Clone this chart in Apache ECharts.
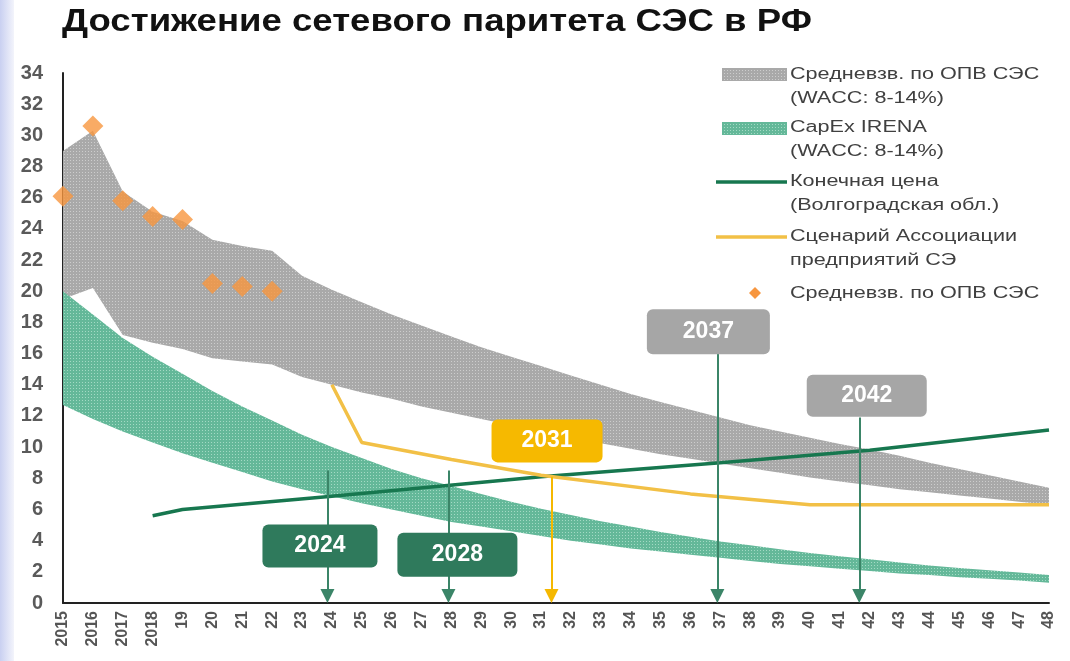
<!DOCTYPE html>
<html>
<head>
<meta charset="utf-8">
<script src="https://cdn.jsdelivr.net/npm/echarts@6/dist/echarts.min.js"></script>
<style>
  html, body { margin: 0; padding: 0; background: #fff; }
  #main { width: 1070px; height: 661px; }
</style>
</head>
<body>
<div id="main"></div>
<script>
// годы по оси X
const years = [2015, 2016, 2017, 2018, 2019, 2020, 2021, 2022, 2023, 2024, 2025, 2026, 2027, 2028, 2029, 2030, 2031,
  2032, 2033, 2034, 2035, 2036, 2037, 2038, 2039, 2040, 2041, 2042, 2043, 2044, 2045, 2046, 2047, 2048];

// Средневзв. по ОПВ СЭС (WACC 8-14%) - верхняя и нижняя граница
const grayTop = [29.0, 30.3, 26.4, 25.1, 24.5, 23.3, 22.9, 22.6, 21.0, 20.1, 19.3, 18.5, 17.8, 17.1, 16.4, 15.8, 15.2,
  14.6, 14.0, 13.4, 12.9, 12.4, 11.9, 11.4, 11.0, 10.6, 10.2, 9.85, 9.45, 9.0, 8.6, 8.2, 7.8, 7.4];
const grayLow = [19.5, 20.2, 17.2, 16.7, 16.3, 15.7, 15.5, 15.3, 14.5, 14.0, 13.5, 13.1, 12.6, 12.2, 11.8, 11.4, 11.0,
  10.6, 10.25, 9.9, 9.55, 9.25, 8.95, 8.65, 8.35, 8.05, 7.8, 7.55, 7.3, 7.1, 6.9, 6.7, 6.5, 6.3];

// CapEx IRENA (WACC 8-14%)
const greenTop = [20.0, 18.5, 17.0, 15.8, 14.7, 13.6, 12.6, 11.7, 10.8, 10.0, 9.3, 8.6, 8.0, 7.5, 7.0, 6.5, 6.05,
  5.65, 5.25, 4.9, 4.55, 4.25, 3.95, 3.7, 3.45, 3.2, 3.0, 2.8, 2.6, 2.4, 2.25, 2.1, 1.95, 1.8];
const greenLow = [12.7, 11.8, 11.0, 10.3, 9.6, 9.0, 8.4, 7.8, 7.3, 6.85, 6.4, 6.0, 5.6, 5.2, 4.9, 4.6, 4.3,
  4.0, 3.75, 3.5, 3.3, 3.1, 2.9, 2.7, 2.5, 2.35, 2.2, 2.05, 1.9, 1.8, 1.65, 1.55, 1.45, 1.3];

// Конечная цена (Волгоградская обл.)
const priceYears = [2018, 2019, 2024, 2031, 2037, 2042, 2048];
const priceValues = [5.6, 6.0, 6.85, 8.1, 9.0, 9.8, 11.1];

// Сценарий Ассоциации предприятий СЭ
const scenarioYears = [2024, 2025, 2028, 2031, 2036, 2040, 2048];
const scenarioValues = [14.0, 10.3, 9.2, 8.2, 7.0, 6.3, 6.3];

// Средневзв. по ОПВ СЭС (точки)
const dotYears = [2015, 2016, 2017, 2018, 2019, 2020, 2021, 2022];
const dotValues = [26.1, 30.6, 25.8, 24.8, 24.6, 20.5, 20.3, 20.0];

// годы достижения паритета
const parityLabels = ['2024', '2028', '2031', '2037', '2042'];
const parityYears = [2023.85, 2027.9, 2031.35, 2036.9, 2041.65];
const parityFrom = [8.5, 8.5, 8.1, 16, 11.9];

// подписи-плашки (центр в координатах графика)
const notes = [
  { x: 2023.6, y: 3.65, w: 115, h: 43, color: '#2f7a5c' },
  { x: 2028.2, y: 3.1, w: 120, h: 44, color: '#2f7a5c' },
  { x: 2031.2, y: 10.4, w: 111, h: 43, color: '#f6b900' },
  { x: 2036.6, y: 17.4, w: 123, h: 45, color: '#a6a6a6' },
  { x: 2041.9, y: 13.3, w: 120, h: 42, color: '#a6a6a6' }
];
const arrowColors = ['#3b8568', '#3b8568', '#f5b800', '#3b8568', '#3b8568'];

const DKGREEN = '#17774f';
const YELLOW = '#f2c046';
const ORANGE = '#f7963f';
const FONT = 'Liberation Sans, Arial, sans-serif';
const LEG = { font: '16px ' + FONT, fill: '#404040', lineHeight: 24 };

const pairs = (xs, ys) => xs.map((x, i) => [x, ys[i]]);

// точечная текстура как в оригинале
function dotted(base, dot) {
  const c = document.createElement('canvas');
  c.width = 3; c.height = 3;
  const g = c.getContext('2d');
  g.fillStyle = base; g.fillRect(0, 0, 3, 3);
  g.fillStyle = dot; g.fillRect(1, 1, 1, 1);
  return { image: c, repeat: 'repeat' };
}
const GRAY_FILL = dotted('#a9a9a9', '#cdcdcd');
const TEAL_FILL = dotted('#64b899', '#a3dac4');

// полоса между нижней и верхней границей
function band(low, top, fill) {
  return {
    type: 'custom',
    z: 2,
    silent: true,
    data: years.map((y, i) => [y, low[i], top[i]]),
    encode: { x: 0, y: [1, 2] },
    renderItem: (params, api) => {
      if (params.dataIndexInside !== 0) return null;
      const up = [], down = [];
      for (let i = 0; i < params.dataInsideLength; i++) {
        up.push(api.coord([api.value(0, i), api.value(2, i)]));
        down.push(api.coord([api.value(0, i), api.value(1, i)]));
      }
      return { type: 'polygon', shape: { points: up.concat(down.reverse()) }, style: { fill: fill } };
    }
  };
}

function boxPath(w, h) {
  const r = 6;
  return 'path://M' + r + ',0 H' + (w - r) + ' A' + r + ',' + r + ' 0 0 1 ' + w + ',' + r +
    ' V' + (h - r) + ' A' + r + ',' + r + ' 0 0 1 ' + (w - r) + ',' + h +
    ' H' + r + ' A' + r + ',' + r + ' 0 0 1 0,' + (h - r) +
    ' V' + r + ' A' + r + ',' + r + ' 0 0 1 ' + r + ',0 Z';
}

const legendText = (x, y, text) => ({
  type: 'text', x: x, y: y, scaleX: 1.35,
  style: Object.assign({ text: text }, LEG)
});

const chart = echarts.init(document.getElementById('main'));

const option = {
  animation: false,
  backgroundColor: '#fff',
  grid: { left: 63, right: 21, top: 73, bottom: 58 },
  xAxis: {
    type: 'value',
    min: 2015,
    max: 2048,
    interval: 1,
    axisLine: { lineStyle: { color: '#222', width: 2 } },
    axisTick: { show: false },
    splitLine: { show: false },
    axisLabel: {
      rotate: 90,
      margin: 8,
      color: '#555',
      fontFamily: FONT,
      fontSize: 16,
      fontWeight: 'bold',
      showMinLabel: true,
      showMaxLabel: true,
      formatter: v => (v <= 2018 ? String(v) : String(v).slice(2))
    }
  },
  yAxis: {
    type: 'value',
    min: 0,
    max: 34,
    interval: 2,
    axisLine: { show: true, lineStyle: { color: '#222', width: 2 } },
    axisTick: { show: false },
    splitLine: { show: false },
    axisLabel: { margin: 20, color: '#5a5a5a', fontFamily: FONT, fontSize: 20, fontWeight: 'bold' }
  },
  graphic: [
    {
      type: 'rect', left: 0, top: 0, z: -10,
      shape: { width: 14, height: 661 },
      style: {
        fill: new echarts.graphic.LinearGradient(0, 0, 1, 0, [
          { offset: 0, color: '#c9d0f1' },
          { offset: 1, color: '#f3f4fb' }
        ])
      }
    },
    // заголовок
    {
      type: 'text', x: 62, y: 7, scaleX: 1.18,
      style: { text: 'Достижение сетевого паритета СЭС в РФ', font: 'bold 31px ' + FONT, fill: '#111' }
    },
    // легенда
    { type: 'rect', shape: { x: 722, y: 68, width: 65, height: 13 }, style: { fill: GRAY_FILL } },
    legendText(790, 63, 'Средневзв. по ОПВ СЭС\n(WACC: 8-14%)'),
    { type: 'rect', shape: { x: 722, y: 122, width: 65, height: 13 }, style: { fill: TEAL_FILL } },
    legendText(790, 116, 'CapEx IRENA\n(WACC: 8-14%)'),
    { type: 'line', shape: { x1: 716, y1: 182, x2: 787, y2: 182 }, style: { stroke: DKGREEN, lineWidth: 3.5 } },
    legendText(790, 170, 'Конечная цена\n(Волгоградская обл.)'),
    { type: 'line', shape: { x1: 716, y1: 237, x2: 787, y2: 237 }, style: { stroke: YELLOW, lineWidth: 3.5 } },
    legendText(790, 225, 'Сценарий Ассоциации\nпредприятий СЭ'),
    { type: 'polygon', shape: { points: [[755, 287], [761, 293], [755, 299], [749, 293]] }, style: { fill: ORANGE } },
    legendText(790, 282, 'Средневзв. по ОПВ СЭС')
  ],
  series: [
    band(grayLow, grayTop, GRAY_FILL),
    band(greenLow, greenTop, TEAL_FILL),
    {
      type: 'line', symbol: 'none', z: 3,
      data: pairs(priceYears, priceValues),
      lineStyle: { color: DKGREEN, width: 3.5 }
    },
    {
      type: 'line', symbol: 'none', z: 3,
      data: pairs(scenarioYears, scenarioValues),
      lineStyle: { color: YELLOW, width: 3.5 }
    },
    {
      type: 'scatter', symbol: 'diamond', symbolSize: 21, z: 4,
      data: pairs(dotYears, dotValues),
      itemStyle: { color: ORANGE }
    },
    {
      type: 'line', data: [], z: 5,
      markLine: {
        silent: true,
        symbol: ['none', 'triangle'],
        symbolSize: [14, 14],
        label: { show: false },
        data: parityYears.map((x, i) => [
          { coord: [x, parityFrom[i]], lineStyle: { color: arrowColors[i], width: 2, type: 'solid' }, itemStyle: { color: arrowColors[i] } },
          { coord: [x, 0.45] }
        ])
      }
    },
    {
      type: 'line', data: [], z: 6,
      markPoint: {
        silent: true,
        data: notes.map((n, i) => ({
          coord: [n.x, n.y],
          symbol: boxPath(n.w, n.h),
          symbolSize: [n.w, n.h],
          itemStyle: { color: n.color },
          label: {
            show: true, position: 'inside', formatter: parityLabels[i],
            color: '#fff', fontFamily: FONT, fontSize: 23, fontWeight: 'bold'
          }
        }))
      }
    }
  ]
};

chart.setOption(option);
</script>
</body>
</html>
